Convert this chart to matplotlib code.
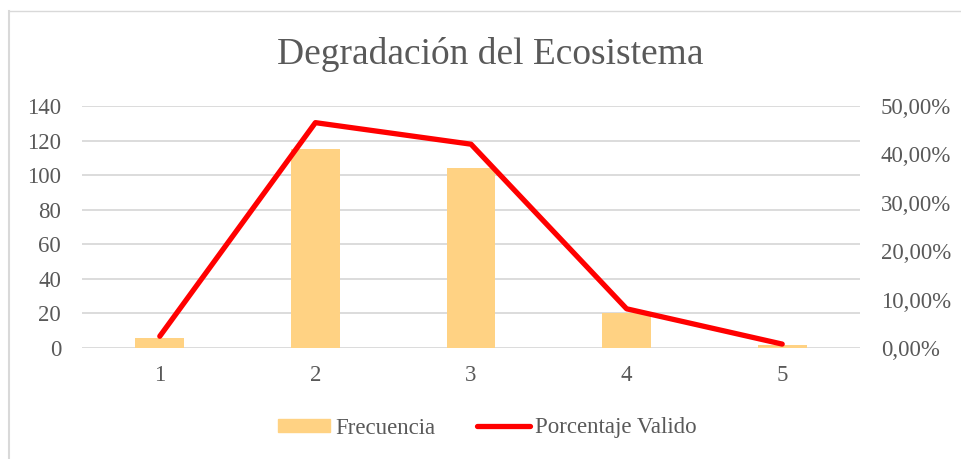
import matplotlib
matplotlib.use("Agg")
import matplotlib.pyplot as plt
from matplotlib.lines import Line2D

categories = ["1", "2", "3", "4", "5"]
frecuencia = [6, 115, 104, 20, 2]
porcentaje = [2.43, 46.56, 42.11, 8.10, 0.81]
left_ticks = [0, 20, 40, 60, 80, 100, 120, 140]
right_ticks = [0, 10, 20, 30, 40, 50]

plt.rcParams['font.family'] = ['Liberation Serif', 'DejaVu Serif']
gray = '#595959'
grid = '#D9D9D9'

fig = plt.figure(figsize=(9.61, 4.59), dpi=100)
W, H = 961, 459
ax = fig.add_axes([82 / W, 1 - 348 / H, (860 - 82) / W, (348 - 106) / H])
x = list(range(len(categories)))
ax.bar(x, frecuencia, width=0.314, color='#FFD283', zorder=2)
ax.set_xlim(-0.5, len(categories) - 0.5)
ax.set_ylim(0, 140)
ax.set_yticks(left_ticks)
ax.set_xticks(x)
ax.set_xticklabels(categories)
for y in left_ticks:
    ax.axhline(y, color=grid, lw=1.3, zorder=0)
for s in ax.spines.values():
    s.set_visible(False)
ax.tick_params(axis='both', length=0, labelsize=16.5, colors=gray)
ax.tick_params(axis='x', pad=12)
ax.tick_params(axis='y', pad=15)

ax2 = ax.twinx()
ax2.plot(x, porcentaje, color='#FF0000', lw=3.8, solid_capstyle='round', zorder=3)
ax2.set_ylim(0, 50)
ax2.set_yticks(right_ticks)
ax2.set_yticklabels([f"{v:.2f}%".replace('.', ',') for v in right_ticks])
for s in ax2.spines.values():
    s.set_visible(False)
ax2.tick_params(axis='y', length=0, labelsize=16.5, colors=gray, pad=15)

fig.text(490 / W, 1 - 55 / H, "Degradación del Ecosistema", ha='center', va='center',
         fontsize=27, color=gray)

handles = [plt.Rectangle((0, 0), 1, 1, color='#FFD283'),
           Line2D([0], [0], color='#FF0000', lw=3.8, solid_capstyle='round')]
fig.legend(handles, ["Frecuencia", "Porcentaje Valido"], loc='center',
           bbox_to_anchor=(487 / W, 1 - 428 / H), ncol=2, frameon=False,
           fontsize=16.5, labelcolor=gray, handlelength=2.3, handleheight=0.5,
           columnspacing=1.85, handletextpad=0.2)

fig.add_artist(Line2D([8.5 / W, 8.5 / W], [0, 1 - 10.5 / H], color=grid, lw=1.5))
fig.add_artist(Line2D([8.5 / W, 1], [1 - 10.5 / H, 1 - 10.5 / H], color=grid, lw=1.0))

fig.savefig("out.png", dpi=100)
